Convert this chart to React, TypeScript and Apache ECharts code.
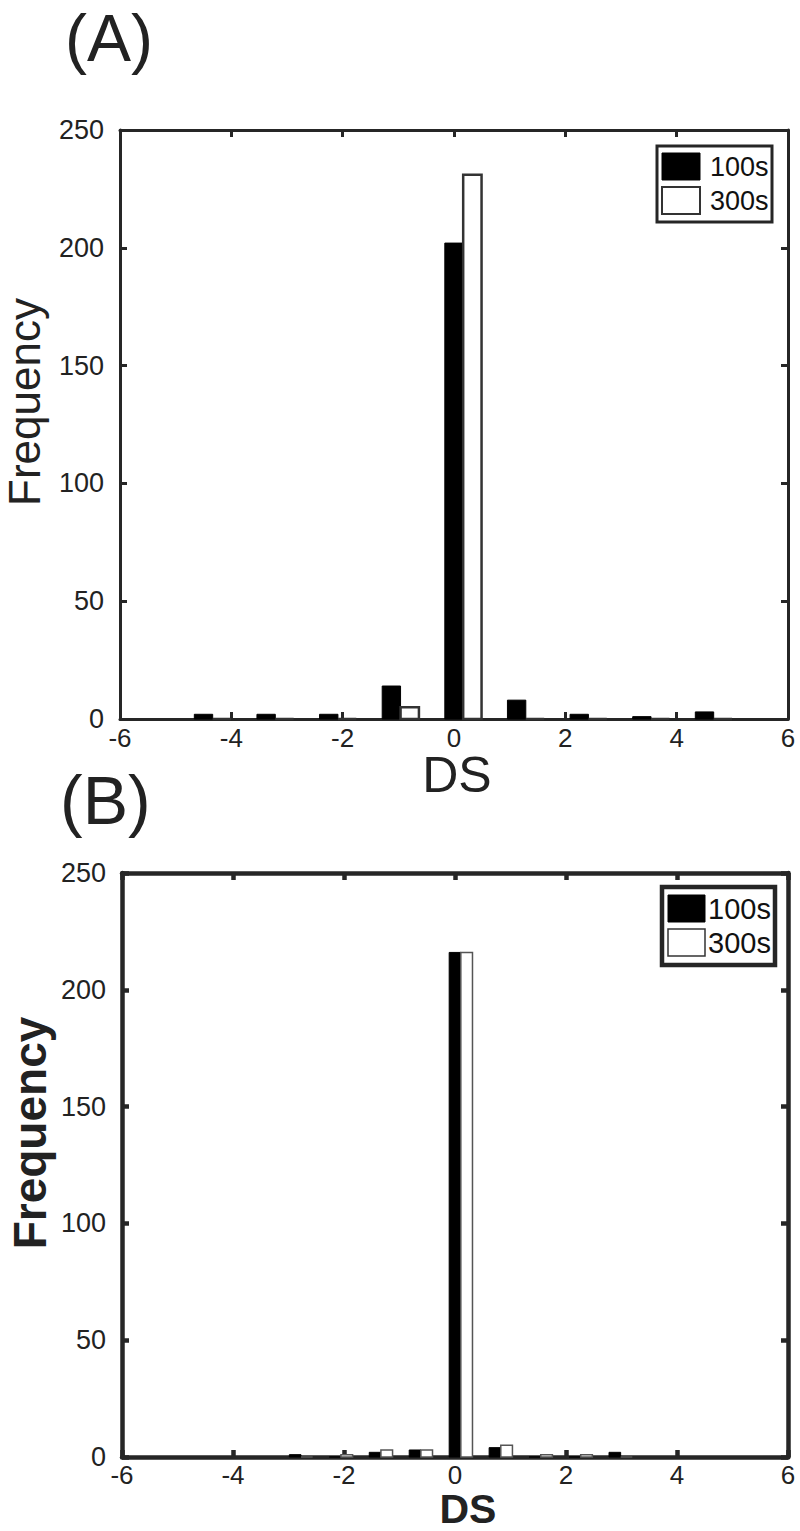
import React, { useEffect, useRef } from "react";
import * as echarts from "echarts";

// ---- data ----
const binCentersA = [-4.5, -3.375, -2.25, -1.125, 0, 1.125, 2.25, 3.375, 4.5];
const freq100sA = [2, 2, 2, 14, 202, 8, 2, 1, 3];
const freq300sA = [0, 0, 0, 5, 231, 0, 0, 0, 0];

const binCentersB = [-2.88, -2.16, -1.44, -0.72, 0, 0.72, 1.44, 2.16, 2.88];
const freq100sB = [1, 0, 2, 3, 216, 4, 0, 0, 2];
const freq300sB = [0, 1, 3, 3, 216, 5, 1, 1, 0];

const xTicks = [-6, -4, -2, 0, 2, 4, 6];
const yTicks = [0, 50, 100, 150, 200, 250];
const legendNames = ["100s", "300s"];

const FONT = "'Liberation Sans', Arial, Helvetica, sans-serif";

function makeRender(w: number, shift: number, fill: string, stroke: string, lw: number) {
  return (params: any, api: any) => {
    const x = api.value(0);
    const y = api.value(1);
    const p0 = api.coord([x + shift - w / 2, 0]);
    const p1 = api.coord([x + shift + w / 2, y]);
    return {
      type: "rect",
      shape: { x: p0[0], y: p1[1], width: p1[0] - p0[0], height: p0[1] - p1[1] },
      style: { fill, stroke, lineWidth: lw },
    };
  };
}

function pairs(xs: number[], ys: number[]) {
  return xs.map((x, i) => [x, ys[i]]);
}

export default function App() {
  const ref = useRef<HTMLDivElement>(null);
  useEffect(() => {
    document.body.style.margin = "0";
    const chart = echarts.init(ref.current!, null, { renderer: "svg" });

    const axisColor = "#262626";
    const mkX = (grid: number, pos: "bottom" | "top", lw: number, labels: boolean, margin: number) => ({
      type: "value",
      gridIndex: grid,
      position: pos,
      min: xTicks[0],
      max: xTicks[xTicks.length - 1],
      interval: 2,
      axisLine: { show: true, onZero: false, lineStyle: { color: axisColor, width: lw } },
      axisTick: { show: true, inside: true, length: 7, lineStyle: { color: axisColor, width: lw } },
      axisLabel: {
        show: labels,
        color: "#222",
        fontSize: 26,
        fontFamily: FONT,
        margin,
        lineHeight: 20,
      },
      splitLine: { show: false },
    });
    const mkY = (grid: number, pos: "left" | "right", lw: number, labels: boolean) => ({
      type: "value",
      gridIndex: grid,
      position: pos,
      min: yTicks[0],
      max: yTicks[yTicks.length - 1],
      interval: 50,
      axisLine: { show: true, onZero: false, lineStyle: { color: axisColor, width: lw } },
      axisTick: { show: true, inside: true, length: 7, lineStyle: { color: axisColor, width: lw } },
      axisLabel: {
        show: labels,
        color: "#222",
        fontSize: 27,
        fontFamily: FONT,
        margin: 16,
        padding: [0, 0, 15, 0],
      },
      splitLine: { show: false },
    });

    const wA = 0.33;
    const wB = 0.21;

    const legend = (
      bx: number, by: number, bw: number, bh: number, blw: number,
      sx: number, sw: number, s1y: number, s2y: number, sh: number, wlw: number,
      tx: number, fs: number
    ) => [
      { type: "rect", shape: { x: bx, y: by, width: bw, height: bh }, style: { fill: "#fff", stroke: "#262626", lineWidth: blw } },
      { type: "rect", shape: { x: sx, y: s1y, width: sw, height: sh }, style: { fill: "#000", stroke: "#000", lineWidth: 1 } },
      { type: "rect", shape: { x: sx, y: s2y, width: sw, height: sh }, style: { fill: "#fff", stroke: "#333", lineWidth: wlw } },
      { type: "text", x: tx, y: s1y + sh / 2, style: { text: legendNames[0], fontSize: fs, lineHeight: fs * 0.9, fontFamily: FONT, fill: "#111", align: "left", verticalAlign: "middle" } },
      { type: "text", x: tx, y: s2y + sh / 2, style: { text: legendNames[1], fontSize: fs, lineHeight: fs * 0.9, fontFamily: FONT, fill: "#111", align: "left", verticalAlign: "middle" } },
    ];

    chart.setOption({
      animation: false,
      backgroundColor: "#fff",
      grid: [
        { left: 120, top: 130, width: 668, height: 589 },
        { left: 122, top: 873, width: 666, height: 584 },
      ],
      xAxis: [mkX(0, "bottom", 3, true, 9), mkX(0, "top", 3, false, 9), mkX(1, "bottom", 4.5, true, 8), mkX(1, "top", 4.5, false, 8)],
      yAxis: [mkY(0, "left", 3, true), mkY(0, "right", 3, false), mkY(1, "left", 4.5, true), mkY(1, "right", 4.5, false)],
      series: [
        {
          type: "custom", name: "100s", xAxisIndex: 0, yAxisIndex: 0,
          renderItem: makeRender(wA, 0, "#000", "#000", 1),
          data: pairs(binCentersA, freq100sA), z: 1,
        },
        {
          type: "custom", name: "300s", xAxisIndex: 0, yAxisIndex: 0,
          renderItem: makeRender(wA, wA, "#fff", "#333", 2.5),
          data: pairs(binCentersA, freq300sA), z: 1,
        },
        {
          type: "custom", name: "100s", xAxisIndex: 2, yAxisIndex: 2,
          renderItem: makeRender(wB, 0, "#000", "#000", 1),
          data: pairs(binCentersB, freq100sB), z: 1,
        },
        {
          type: "custom", name: "300s", xAxisIndex: 2, yAxisIndex: 2,
          renderItem: makeRender(wB, wB, "#fff", "#555", 1.5),
          data: pairs(binCentersB, freq300sB), z: 1,
        },
      ],
      graphic: [
        { type: "text", x: 65, y: 38, style: { text: "(A)", fontSize: 66, lineHeight: 60, fontFamily: FONT, fill: "#222", align: "left", verticalAlign: "middle" } },
        { type: "text", x: 60, y: 800, style: { text: "(B)", fontSize: 68, lineHeight: 60, fontFamily: FONT, fill: "#222", align: "left", verticalAlign: "middle" } },
        { type: "text", x: 24, y: 402, rotation: Math.PI / 2, style: { text: "Frequency", fontSize: 44, fontFamily: FONT, fill: "#222", align: "center", verticalAlign: "middle" } },
        { type: "text", x: 457, y: 775, style: { text: "DS", fontSize: 50, lineHeight: 36, fontFamily: FONT, fill: "#222", align: "center", verticalAlign: "middle" } },
        { type: "text", x: 30, y: 1133, rotation: Math.PI / 2, style: { text: "Frequency", fontSize: 46, fontWeight: "bold", fontFamily: FONT, fill: "#222", align: "center", verticalAlign: "middle" } },
        { type: "text", x: 468, y: 1509, style: { text: "DS", fontSize: 41, lineHeight: 28, fontWeight: "bold", fontFamily: FONT, fill: "#222", align: "center", verticalAlign: "middle" } },
        ...legend(657, 146, 115, 76, 3, 662, 38, 153, 187, 27, 2, 710, 27),
        ...legend(662, 887, 113, 78, 4.5, 668, 37, 895, 929, 27, 1.5, 708, 29),
      ],
    });
    return () => chart.dispose();
  }, []);
  return <div ref={ref} style={{ width: 800, height: 1531 }} />;
}
